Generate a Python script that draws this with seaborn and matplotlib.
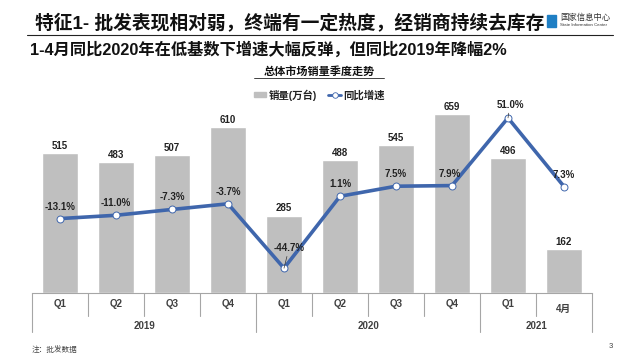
import matplotlib
matplotlib.use('Agg')
import pandas as pd
import seaborn as sns
import matplotlib.pyplot as plt
from matplotlib.patches import Rectangle

quarters = ['Q1', 'Q2', 'Q3', 'Q4', 'Q1', 'Q2', 'Q3', 'Q4', 'Q1', '4月']
periods = ['2019Q1', '2019Q2', '2019Q3', '2019Q4', '2020Q1', '2020Q2', '2020Q3', '2020Q4', '2021Q1', '2021M4']
sales = [515, 483, 507, 610, 285, 488, 545, 659, 496, 162]
growth = [-13.1, -11.0, -7.3, -3.7, -44.7, 1.1, 7.5, 7.9, 51.0, 7.3]
years = ['2019', '2020', '2021']
year_spans = [(0, 4), (4, 8), (8, 10)]

BAR = '#BFBFBF'
LINE = '#3F66AC'
W, H = 640, 360

sns.set_theme(style='white')
plt.rcParams['font.family'] = ['Liberation Sans', 'Noto Sans CJK SC']

df = pd.DataFrame({'period': periods, 'sales': sales, 'growth': growth})

fig = plt.figure(figsize=(6.4, 3.6), dpi=100)
ax = fig.add_axes([32 / W, 1 - 293 / H, 560 / W, 193 / H])

sns.barplot(data=df, x='period', y='sales', color=BAR, width=0.66, saturation=1, ax=ax)
ax.set_xlim(-0.5, 9.5)
ax.set_ylim(0, 710)
ax.bar_label(ax.containers[0], padding=1.5, fontsize=7, fontweight='bold', color='#222222')
ax.set_xlabel('')
ax.set_ylabel('')
ax.set_xticks([])
ax.set_yticks([])
sns.despine(ax=ax, left=True, top=True, right=True)
ax.spines['bottom'].set_color('#A6A6A6')
ax.spines['bottom'].set_linewidth(0.8)

ax2 = ax.twinx()
df['pos'] = range(len(df))
sns.lineplot(data=df, x='pos', y='growth', color=LINE, linewidth=2.6, marker='o', markersize=5,
             markerfacecolor='white', markeredgecolor=LINE, markeredgewidth=0.7, ax=ax2)
ax2.set_ylim(-60.5, 62.4)
ax2.set_xlim(-0.5, 9.5)
ax2.set_ylabel('')
ax2.set_xlabel('')
ax2.set_yticks([])
ax2.set_xticks([])
sns.despine(ax=ax2, left=True, top=True, right=True, bottom=True)

offsets = [(0, 12), (0, 12), (0, 12), (0, 12), (5, 20), (0, 12), (0, 12), (-2, 12), (2, 13), (0, 12)]
for i, g in enumerate(growth):
    dx, dy = offsets[i]
    # the two extreme points have a short leader line up to the label
    leader = dict(arrowstyle='-', color='#333333', lw=0.5, shrinkA=0, shrinkB=0) if i in (4, 8) else None
    ax2.annotate('{:.1f}%'.format(g), (i, g), xytext=(dx * 0.72, dy * 0.72), textcoords='offset points',
                 ha='center', va='center', fontsize=7, fontweight='bold', color='#222222',
                 arrowprops=leader, zorder=5)

# two-level axis under the bars
tr = ax.get_xaxis_transform()
def drop(px):
    return -(px - 293) / 193

for i in range(1, 10):
    if i not in (4, 8):
        ax.plot([i - 0.5, i - 0.5], [0, drop(316)], color='#A6A6A6', lw=0.8, transform=tr, clip_on=False)
for i in (0, 4, 8, 10):
    ax.plot([i - 0.5, i - 0.5], [0, drop(332)], color='#A6A6A6', lw=0.8, transform=tr, clip_on=False)
for i, q in enumerate(quarters):
    ax.text(i, drop(309 if q == '4月' else 304), q, transform=tr, ha='center', va='center',
            fontsize=7, fontweight='bold', color='#404040')
for y, (a, b) in zip(years, year_spans):
    ax.text((a + b - 1) / 2, drop(326), y, transform=tr, ha='center', va='center',
            fontsize=7, fontweight='bold', color='#404040')

# header
fig.text(35 / W, 1 - 24 / H, '特征1- 批发表现相对弱，终端有一定热度，经销商持续去库存', fontsize=13.5, fontweight='bold',
         color='#111111', va='center')
fig.add_artist(plt.Line2D([27 / W, 613 / W], [1 - 35 / H, 1 - 35 / H], color='#222222', lw=0.8))
fig.text(30 / W, 1 - 50 / H, '1-4月同比2020年在低基数下增速大幅反弹，但同比2019年降幅2%', fontsize=11.7, fontweight='bold',
         color='#111111', va='center')
fig.text(319 / W, 1 - 71 / H, '总体市场销量季度走势', fontsize=8, fontweight='bold', color='#111111',
         ha='center', va='center')
fig.add_artist(plt.Line2D([254 / W, 384 / W], [1 - 78 / H, 1 - 78 / H], color='#222222', lw=0.6))

# logo
fig.add_artist(Rectangle((547 / W, 1 - 27 / H), 9 / W, 12 / H, color='#1F7FC4', transform=fig.transFigure))
fig.text(560 / W, 1 - 18 / H, '国家信息中心', fontsize=6, color='#333333', va='center')
fig.text(560 / W, 1 - 25.5 / H, 'State Information Center', fontsize=3.2, color='#333333', va='center')

# legend
fig.add_artist(Rectangle((254 / W, 1 - 97 / H), 12 / W, 5 / H, color=BAR, transform=fig.transFigure))
fig.text(269 / W, 1 - 95 / H, '销量(万台)', fontsize=7.5, fontweight='bold', color='#222222', va='center')
fig.add_artist(plt.Line2D([328 / W, 334.5 / W, 341 / W], [1 - 95 / H] * 3, color=LINE, lw=2, marker='o',
                          markevery=[1], markersize=4, markerfacecolor='white', markeredgewidth=0.6))
fig.text(343 / W, 1 - 95 / H, '同比增速', fontsize=7.5, fontweight='bold', color='#222222', va='center')

fig.text(32 / W, 1 - 350 / H, '注：批发数据', fontsize=5.5, color='#444444', va='center')
fig.text(611 / W, 1 - 347 / H, '3', fontsize=5.5, color='#444444', va='center', ha='center')

fig.savefig('out.png', dpi=100)
